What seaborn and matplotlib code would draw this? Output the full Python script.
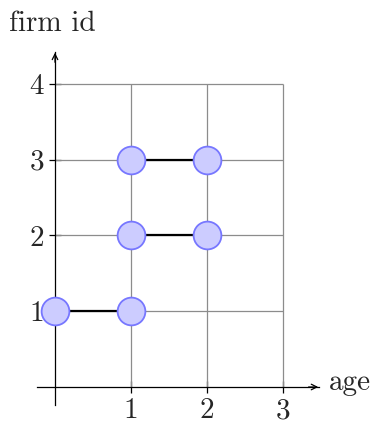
import matplotlib
matplotlib.use("Agg")
import matplotlib.pyplot as plt
import seaborn as sns
import pandas as pd

# data
firm_id = [1, 1, 2, 2, 3, 3]
age = [0, 1, 1, 2, 1, 2]
x_ticks = [1, 2, 3]
y_ticks = [1, 2, 3, 4]
x_label = "age"
y_label = "firm id"

df = pd.DataFrame({"age": age, "firm": firm_id})

sns.set_style("white")
plt.rcParams["font.family"] = ["cmr10", "DejaVu Serif"]
plt.rcParams["axes.formatter.use_mathtext"] = True

fig = plt.figure(figsize=(3.76, 4.23), dpi=100)
ax = fig.add_axes([0, 0, 1, 1])
ax.set_facecolor("white")

x0px, xs = 55, 76.0
y0px, ys = 387, 75.75
ax.set_xlim(-x0px / xs, (376 - x0px) / xs)
ax.set_ylim((y0px - 423) / ys, y0px / ys)

# grid
xmax, ymax = max(x_ticks), max(y_ticks)
ax.vlines(x_ticks, 0, ymax, color="#8c8c8c", lw=0.9, zorder=1)
ax.hlines(y_ticks, 0, xmax, color="#8c8c8c", lw=0.9, zorder=1)

# axes
for s in ["top", "right"]:
    ax.spines[s].set_visible(False)
ax.spines["left"].set_position(("data", 0))
ax.spines["bottom"].set_position(("data", 0))
ax.spines["left"].set_bounds(-0.24, 4.42)
ax.spines["bottom"].set_bounds(-0.24, 3.48)
for s in ["left", "bottom"]:
    ax.spines[s].set_color("black")
    ax.spines[s].set_linewidth(0.9)
    ax.spines[s].set_zorder(2)
ax.annotate("", xy=(3.5, 0), xytext=(3.3, 0),
            arrowprops=dict(arrowstyle="->", lw=0.9, color="black", mutation_scale=10))
ax.annotate("", xy=(0, 4.45), xytext=(0, 4.25),
            arrowprops=dict(arrowstyle="->", lw=0.9, color="black", mutation_scale=10))

ax.set_xticks(x_ticks)
ax.set_yticks(y_ticks)
ax.set_xticklabels([str(t) for t in x_ticks])
ax.set_yticklabels([str(t) for t in y_ticks])
ax.tick_params(axis="both", direction="inout", length=8, width=0.9, color="black",
               labelsize=21, bottom=True, left=True)
ax.tick_params(axis="x", pad=4)
ax.tick_params(axis="y", pad=4)

ax.text(3.6, 0.05, x_label, fontsize=21, ha="left", va="center")
ax.text(-0.6, 4.8, y_label, fontsize=21, ha="left", va="center")

# data marks
sns.lineplot(data=df, x="age", y="firm", units="firm", estimator=None,
             color="black", lw=1.6, ax=ax, zorder=3, legend=False)
sns.scatterplot(data=df, x="age", y="firm", s=400, color="#ccccff",
                edgecolor="#7777ff", linewidth=1.3, ax=ax, zorder=4, legend=False)
ax.set_xlabel("")
ax.set_ylabel("")

fig.savefig("out.png", dpi=100)
